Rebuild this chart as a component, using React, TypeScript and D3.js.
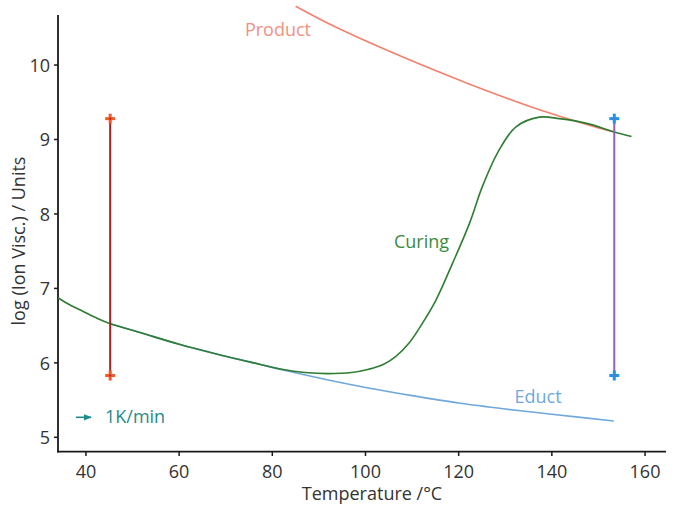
import React from "react";
import * as d3 from "d3";

const W = 676;
const H = 507;

const xTicks = [40, 60, 80, 100, 120, 140, 160];
const yTicks = [5, 6, 7, 8, 9, 10];

const curingT = [34, 36.5, 39.4, 42.2, 45.1, 52, 60, 68, 76, 82, 87, 92, 97, 100.7, 103.7, 106.4, 109.4, 112.3, 115.1, 118.7, 122.3, 125.1, 128.7, 132.3, 137.3, 141.6, 147.9, 153.4, 157.1];
const curingV = [6.875, 6.78, 6.69, 6.605, 6.53, 6.40, 6.25, 6.12, 6.00, 5.915, 5.87, 5.855, 5.87, 5.915, 5.975, 6.08, 6.27, 6.54, 6.84, 7.34, 7.87, 8.37, 8.86, 9.17, 9.30, 9.28, 9.21, 9.10, 9.04];

const eductT = [45.1, 52, 60, 68, 76, 84, 92, 100, 110, 120, 130, 140, 153.3];
const eductV = [6.53, 6.40, 6.25, 6.12, 6.00, 5.88, 5.77, 5.67, 5.56, 5.46, 5.38, 5.31, 5.22];

const productT = [85.0, 93.6, 107.9, 122.1, 136.4, 147.1, 153.4];
const productV = [10.79, 10.51, 10.11, 9.75, 9.42, 9.21, 9.10];

const barT = [45.2, 153.4];
const barLow = [5.83, 5.83];
const barHigh = [9.28, 9.28];
const barLineColors = ["#A52020", "#8E62B8"];
const barMarkColors = ["#F4592A", "#1E96E6"];

export default function App() {
  const x = d3.scaleLinear().domain([34, 164.5]).range([58, 666]);
  const y = d3.scaleLinear().domain([4.807, 10.672]).range([451.7, 15]);

  const line = (ts: number[], vs: number[]) =>
    d3
      .line<number>()
      .x((_, i) => x(ts[i]))
      .y((v) => y(v))
      .curve(d3.curveCatmullRom.alpha(0.5))(vs) || "";

  const font = "'Open Sans', 'Noto Sans', sans-serif";
  const axisColor = "#1a1a1a";
  const tickText = "#333333";

  const plus = (cx: number, cy: number, color: string, key: string) => (
    <g key={key}>
      <line x1={cx - 5} x2={cx + 5} y1={cy} y2={cy} stroke={color} strokeWidth={3} />
      <line x1={cx} x2={cx} y1={cy - 5} y2={cy + 5} stroke={color} strokeWidth={3} />
    </g>
  );

  return (
    <svg width={W} height={H} style={{ position: "absolute", left: 0, top: 0, background: "#fff" }} fontFamily={font}>
      <defs>
        <marker id="arr" viewBox="0 0 10 10" refX="9" refY="5" markerWidth="5" markerHeight="5" orient="auto">
          <path d="M0,1 L10,5 L0,9 Z" fill="#1F8C8C" />
        </marker>
      </defs>
      {/* Axes */}
      <line x1={58} x2={58} y1={15} y2={452.5} stroke={axisColor} strokeWidth={1.8} />
      <line x1={57.1} x2={666} y1={451.7} y2={451.7} stroke={axisColor} strokeWidth={1.8} />
      {yTicks.map((t) => (
        <g key={"y" + t}>
          <line x1={54} x2={58} y1={y(t)} y2={y(t)} stroke={axisColor} strokeWidth={1.5} />
          <text x={50} y={y(t)} textAnchor="end" dominantBaseline="central" fontSize={18} fill={tickText}>
            {t}
          </text>
        </g>
      ))}
      {xTicks.map((t) => (
        <g key={"x" + t}>
          <line x1={x(t)} x2={x(t)} y1={451.7} y2={456} stroke={axisColor} strokeWidth={1.5} />
          <text x={x(t)} y={477.5} textAnchor="middle" fontSize={18} fill={tickText}>
            {t}
          </text>
        </g>
      ))}
      <text x={372} y={500} textAnchor="middle" fontSize={18} fill={tickText}>
        Temperature /°C
      </text>
      <text transform="translate(25,241) rotate(-90)" textAnchor="middle" fontSize={18} fill={tickText}>
        log (Ion Visc.) / Units
      </text>

      {/* Curves */}
      <path d={line(productT, productV)} fill="none" stroke="#F4806E" strokeWidth={1.6} />
      <path d={line(eductT, eductV)} fill="none" stroke="#6FA8DC" strokeWidth={1.6} />
      <path d={line(curingT, curingV)} fill="none" stroke="#2E7D32" strokeWidth={1.6} />

      {/* Vertical bars */}
      {barT.map((t, i) => (
        <g key={"b" + i}>
          <line x1={x(t)} x2={x(t)} y1={y(barLow[i])} y2={y(barHigh[i])} stroke={barLineColors[i]} strokeWidth={2} />
          {plus(x(t), y(barHigh[i]), barMarkColors[i], "h" + i)}
          {plus(x(t), y(barLow[i]), barMarkColors[i], "l" + i)}
          <circle cx={x(t)} cy={y(barHigh[i])} r={1} fill={barLineColors[i]} />
          <circle cx={x(t)} cy={y(barLow[i])} r={1} fill={barLineColors[i]} />
        </g>
      ))}

      {/* Labels */}
      <text x={278} y={36} textAnchor="middle" fontSize={18} fill="#F3907F">
        Product
      </text>
      <text x={421.5} y={247.5} textAnchor="middle" fontSize={18} fill="#3C8A3C">
        Curing
      </text>
      <text x={538} y={403.3} textAnchor="middle" fontSize={18} fill="#6FA8DC">
        Educt
      </text>
      <line x1={76} x2={91} y1={417.3} y2={417.3} stroke="#1F8C8C" strokeWidth={1.6} markerEnd="url(#arr)" />
      <text x={105} y={423.3} fontSize={18} fill="#1F8C8C">
        1K/min
      </text>
    </svg>
  );
}
